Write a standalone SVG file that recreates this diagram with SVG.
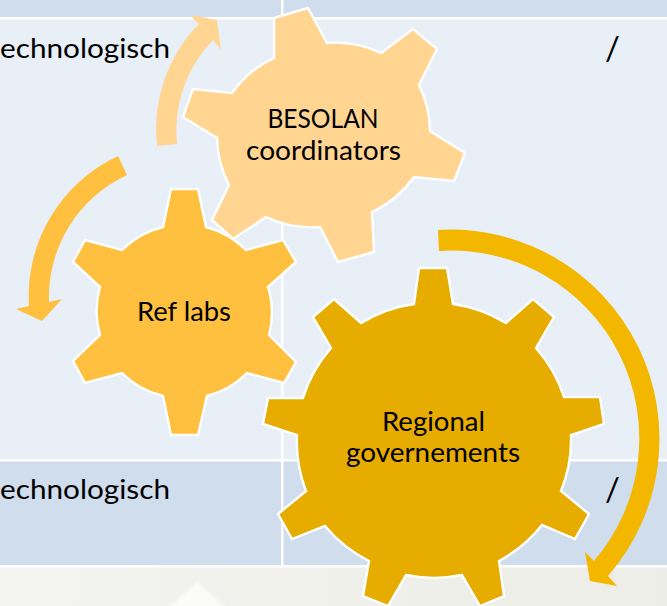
<svg xmlns="http://www.w3.org/2000/svg" width="667" height="606" viewBox="0 0 667 606">
<style>
.gear{stroke:#fff;stroke-width:2.4;stroke-linejoin:miter}
.t{font-family:"Lato","Liberation Sans",sans-serif;font-size:26.5px;fill:#000}
.s{font-size:33px}
.m{text-anchor:middle}
.line{fill:#fff}
</style>
<defs>
<linearGradient id="floor" x1="0" x2="1" y1="0" y2="0"><stop offset="0" stop-color="#f3f3ef"/><stop offset="1" stop-color="#edede8"/></linearGradient>
<filter id="soft" x="-20%" y="-20%" width="140%" height="140%"><feGaussianBlur stdDeviation="1.5"/></filter>
</defs>
<g id="background">
<rect x="0" y="0" width="667" height="606" fill="#e9eff7"/>
<rect x="0" y="0" width="667" height="17" fill="#d0dded"/>
<rect x="0" y="461" width="667" height="104" fill="#d0dded"/>
<rect x="0" y="567" width="667" height="39" fill="url(#floor)"/>
<polygon points="197,582 168,608 226,608" fill="#fbfbf8" filter="url(#soft)"/>
<rect class="line" x="0" y="17" width="667" height="2.5"/>
<rect class="line" x="0" y="459" width="667" height="2.5"/>
<rect class="line" x="0" y="565" width="667" height="2.5"/>
<rect class="line" x="281" y="0" width="2.5" height="567"/>
</g>
<g id="table-text">
<text class="t" x="0" y="58" textLength="170" lengthAdjust="spacingAndGlyphs">echnologisch</text>
<text class="t" x="0" y="499" textLength="170" lengthAdjust="spacingAndGlyphs">echnologisch</text>
<text class="t s" x="605" y="60">/</text>
<text class="t s" x="605" y="501">/</text>
</g>
<g id="connectors">
<path d="M157,146 A150,150 0 0 1 199,24 L190,15 L217,20 L221,50 L213,40 A130,130 0 0 0 177,144 Z" fill="#ffd591"/>
<path d="M118,156 A155,155 0 0 0 29,306 L16,309 L42,321 L62,299 L49,302 A135,135 0 0 1 127,175 Z" fill="#ffc03f"/>
<path d="M438,230 A209,209 0 0 1 608,576 L617,586 L590,581 L585,552 L594,561 A188,188 0 0 0 439,251 Z" fill="#f3b700"/>
</g>
<g id="node-besolan">
<path class="gear" fill="#ffd591" d="M274,18 L308,8 L327,43 A107,107 0 0 1 381,53 L413,29 L437,49 L419,85 A107,107 0 0 1 430,131 L465,153 L454,181 L414,177 A107,107 0 0 1 372,212 L374,252 L338,262 L320,227 A107,107 0 0 1 266,217 L233,239 L212,220 L229,185 A107,107 0 0 1 217,138 L183,117 L193,89 L232,93 A107,107 0 0 1 274,58 Z"/>
<text class="t m" x="323" y="127.500" textLength="111" lengthAdjust="spacingAndGlyphs">BESOLAN</text>
<text class="t m" x="323.500" y="159.500" textLength="155" lengthAdjust="spacingAndGlyphs">coordinators</text>
</g>
<g id="node-ref-labs">
<path class="gear" fill="#ffc03f" d="M171,189 L198,189 L206,227 A87,87 0 0 1 246,250 L283,240 L296,262 L268,287 A87,87 0 0 1 269,335 L296,362 L284,383 L247,373 A87,87 0 0 1 207,396 L198,435 L171,435 L163,396 A87,87 0 0 1 122,373 L85,383 L73,361 L100,335 A87,87 0 0 1 100,287 L73,262 L85,240 L122,250 A87,87 0 0 1 163,227 Z"/>
<text class="t m" x="184" y="320.500" textLength="94" lengthAdjust="spacingAndGlyphs">Ref labs</text>
</g>
<g id="node-regional">
<path class="gear" fill="#e6ac00" d="M419,268 L447,268 L453,304 A138,138 0 0 1 506,323 L533,299 L554,317 L536,348 A138,138 0 0 1 564,397 L600,397 L604,424 L571,435 A138,138 0 0 1 561,491 L589,514 L575,539 L542,525 A138,138 0 0 1 499,561 L504,596 L480,606 L462,575 A138,138 0 0 1 406,575 L388,606 L363,596 L369,561 A138,138 0 0 1 325,526 L292,539 L278,514 L306,491 A138,138 0 0 1 297,435 L263,424 L268,398 L303,398 A138,138 0 0 1 331,348 L313,317 L334,299 L361,323 A138,138 0 0 1 414,304 Z"/>
<text class="t m" x="433.500" y="430.500" textLength="103" lengthAdjust="spacingAndGlyphs">Regional</text>
<text class="t m" x="433" y="461.500" textLength="174" lengthAdjust="spacingAndGlyphs">governements</text>
</g>
</svg>
